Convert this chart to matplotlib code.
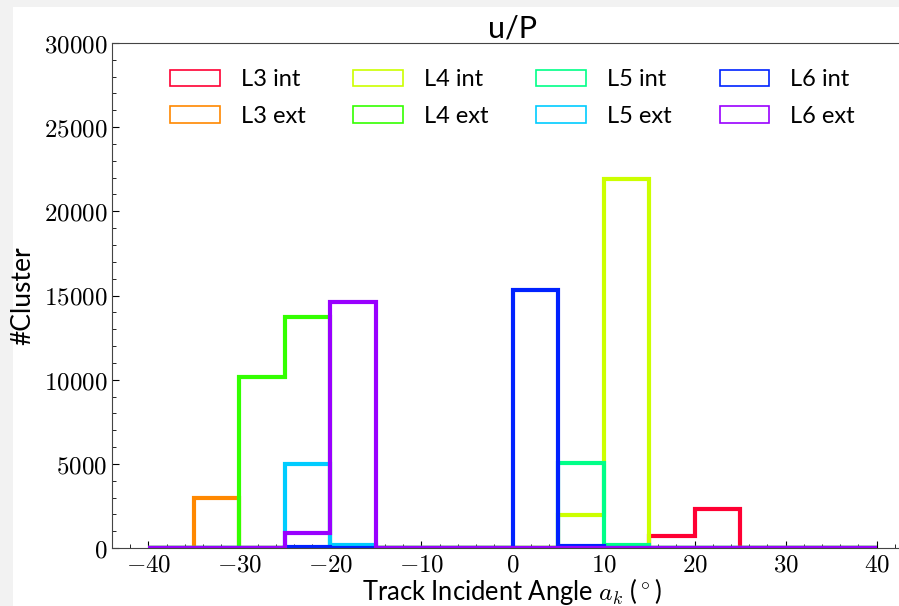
import numpy as np
import matplotlib
matplotlib.use('Agg')
import matplotlib.pyplot as plt
from matplotlib.patches import Patch, Rectangle
from matplotlib.ticker import FuncFormatter, MultipleLocator

plt.rcParams['mathtext.fontset'] = 'cm'
plt.rcParams['font.family'] = ['Lato', 'DejaVu Sans']

# Bins of the incident angle (degrees)
edges = np.arange(-40, 45, 5)
centers = edges[:-1] + 2.5

labels = ['L3 int', 'L3 ext', 'L4 int', 'L4 ext', 'L5 int', 'L5 ext', 'L6 int', 'L6 ext']
colors = ['#ff0033', '#ff8800', '#ccff00', '#33ff00', '#00ff88', '#00ccff', '#0022ff', '#9900ff']

# Counts per bin (16 bins from -40 to 40)
l3_int = [0, 0, 0, 0, 0, 0, 0, 0, 0, 0, 0, 700, 2300, 0, 0, 0]
l3_ext = [0, 3000, 0, 0, 0, 0, 0, 0, 0, 0, 0, 0, 0, 0, 0, 0]
l4_int = [0, 0, 0, 0, 0, 0, 0, 0, 0, 1950, 21900, 0, 0, 0, 0, 0]
l4_ext = [0, 0, 10150, 13750, 0, 0, 0, 0, 0, 0, 0, 0, 0, 0, 0, 0]
l5_int = [0, 0, 0, 0, 0, 0, 0, 0, 0, 5050, 150, 0, 0, 0, 0, 0]
l5_ext = [0, 0, 0, 5000, 200, 0, 0, 0, 0, 0, 0, 0, 0, 0, 0, 0]
l6_int = [0, 0, 0, 50, 0, 0, 0, 0, 15300, 100, 0, 0, 0, 0, 0, 0]
l6_ext = [0, 0, 0, 870, 14600, 0, 0, 0, 0, 0, 0, 0, 0, 0, 0, 0]

series = [l3_int, l3_ext, l4_int, l4_ext, l5_int, l5_ext, l6_int, l6_ext]

fig = plt.figure(figsize=(8.99, 6.06), dpi=100, facecolor='#f2f2f2')
fig.patches.append(Rectangle((13/899, 0), 1, (606-7)/606, transform=fig.transFigure,
                             facecolor='white', edgecolor='none', zorder=-1))
ax = fig.add_axes([112/899, 58/606, 801/899, 505/606])

for counts, col in zip(series, colors):
    ax.hist(centers, bins=edges, weights=counts, histtype='step', color=col, linewidth=3)

ax.set_xlim(-44, 44)
ax.set_ylim(0, 30000)
ax.xaxis.set_major_locator(MultipleLocator(10))
ax.xaxis.set_minor_locator(MultipleLocator(2))
ax.yaxis.set_major_locator(MultipleLocator(5000))
ax.yaxis.set_minor_locator(MultipleLocator(1000))
fmt = FuncFormatter(lambda v, p: '$%g$' % v)
ax.xaxis.set_major_formatter(fmt)
ax.yaxis.set_major_formatter(fmt)
ax.tick_params(which='both', direction='in', top=False, right=False, labelsize=18)
ax.tick_params(which='major', length=5)
ax.tick_params(which='minor', length=3)
for s in ax.spines.values():
    s.set_color('#444444')

ax.set_title('u/P', fontsize=22, pad=4)
ax.set_xlabel(r'Track Incident Angle $a_k$ ($^\circ$)', fontsize=18.4, labelpad=0)
ax.set_ylabel('#Cluster', fontsize=19, labelpad=6)

handles = [Patch(facecolor='none', edgecolor=c, linewidth=1.2) for c in colors]
ax.legend(handles, labels, loc='upper center', ncol=4, frameon=False, fontsize=17,
          handlelength=2.1, handleheight=0.7, columnspacing=2.02, labelspacing=0.65,
          handletextpad=0.9, bbox_to_anchor=(0.5, 0.99))

plt.savefig('out.png', dpi=100, facecolor=fig.get_facecolor())
